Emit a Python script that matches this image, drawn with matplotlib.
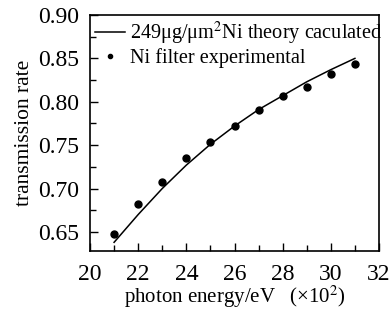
import numpy as np
import matplotlib
matplotlib.use("Agg")
import matplotlib.pyplot as plt
from matplotlib.ticker import MultipleLocator

# theory curve (x 10^2 eV)
theory_x = [21, 22, 23, 24, 25, 26, 27, 28, 29, 30, 31]
theory_y = [0.638, 0.670, 0.700, 0.727, 0.751, 0.772, 0.791, 0.807, 0.823, 0.837, 0.850]

# experimental points
exp_x = [21, 22, 23, 24, 25, 26, 27, 28, 29, 30, 31]
exp_y = [0.648, 0.682, 0.708, 0.735, 0.754, 0.772, 0.790, 0.807, 0.817, 0.832, 0.843]

plt.rcParams["font.family"] = ["Liberation Serif", "DejaVu Serif"]
plt.rcParams["mathtext.fontset"] = "stix"

fig = plt.figure(figsize=(3.91, 3.10), dpi=100)
ax = fig.add_axes([90 / 391, 1 - 251 / 310, (379 - 90) / 391, (251 - 15) / 310])

ax.plot(theory_x, theory_y, color="black", linewidth=1.1,
        label="249μg/μm$^2$Ni theory caculated")
ax.plot(exp_x, exp_y, "o", color="black", markersize=5,
        label="Ni filter experimental")

ax.set_xlim(20, 32)
ax.set_ylim(0.628, 0.90)
ax.xaxis.set_major_locator(MultipleLocator(2))
ax.xaxis.set_minor_locator(MultipleLocator(1))
ax.yaxis.set_major_locator(MultipleLocator(0.05))
ax.yaxis.set_minor_locator(MultipleLocator(0.025))
ax.yaxis.set_major_formatter(matplotlib.ticker.FormatStrFormatter("%.2f"))
ax.tick_params(which="both", direction="in", labelsize=17)
ax.tick_params(which="major", length=6, width=1)
ax.tick_params(which="minor", length=4, width=1)
ax.tick_params(axis="x", pad=9)
ax.tick_params(axis="y", pad=7.5)
for s in ax.spines.values():
    s.set_linewidth(1.2)

ax.set_xlabel("photon energy/eV   (×10$^2$)", fontsize=15, labelpad=-1)
ax.set_ylabel("transmission rate", fontsize=15.5, labelpad=3)

ax.legend(loc="upper left", frameon=False, fontsize=14.6, handlelength=1.5,
          handletextpad=0.2, borderaxespad=0.05, labelspacing=0.05,
          borderpad=0.2, markerscale=0.6)

fig.savefig("out.png", dpi=100)
